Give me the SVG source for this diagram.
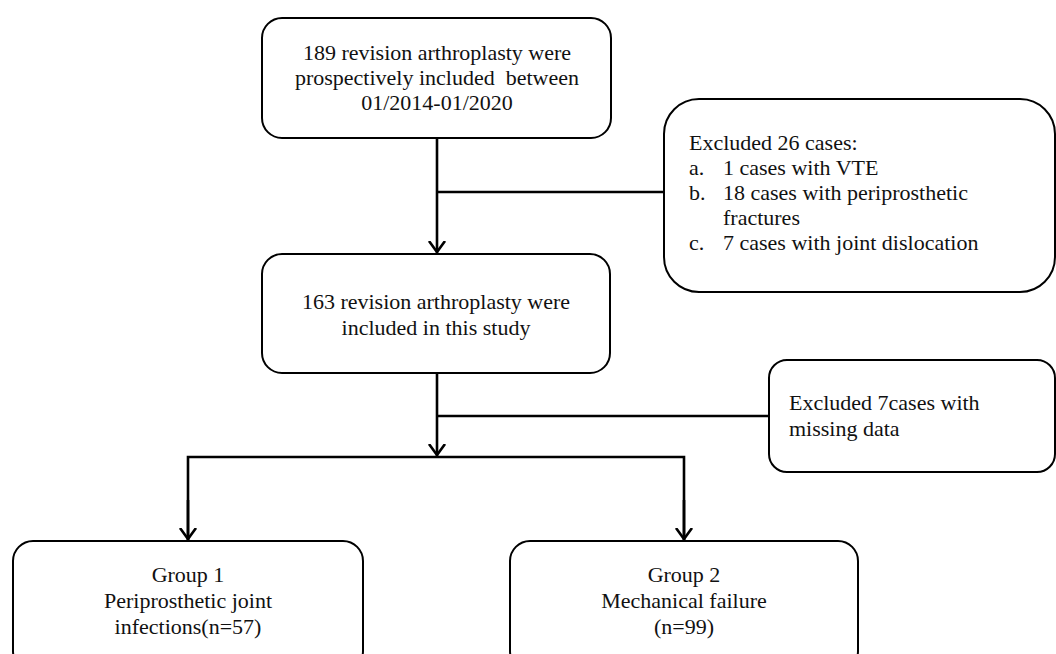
<svg xmlns="http://www.w3.org/2000/svg" width="1056" height="654" viewBox="0 0 1056 654">
<style>
.box{fill:#fff;stroke:#000;stroke-width:2}
.t{font-family:"Liberation Serif","Times New Roman",serif;font-size:22px;fill:#111}
.c{text-anchor:middle}
.ln{fill:none;stroke:#000;stroke-width:2.6}
</style>
<defs>
<marker id="arr" markerUnits="userSpaceOnUse" markerWidth="24" markerHeight="24" viewBox="-12 -12 24 24" refX="0" refY="0" orient="auto">
<path d="M -12 -8 L -1 0 L -12 8" fill="none" stroke="#000" stroke-width="2.6"/>
</marker>
</defs>
<rect width="1056" height="654" fill="#fff"/>
<g id="connectors">
<line class="ln" x1="437" y1="138" x2="437" y2="253" marker-end="url(#arr)"/>
<line class="ln" x1="437" y1="192" x2="664" y2="192"/>
<line class="ln" x1="437" y1="373" x2="437" y2="456" marker-end="url(#arr)"/>
<line class="ln" x1="437" y1="416" x2="769" y2="416"/>
<polyline class="ln" points="188,540 188,457 684,457 684,540"/>
<line class="ln" x1="188" y1="500" x2="188" y2="540" marker-end="url(#arr)"/>
<line class="ln" x1="684" y1="500" x2="684" y2="540" marker-end="url(#arr)"/>
</g>
<g id="n1">
<rect class="box" x="262" y="18" width="349" height="120" rx="20"/>
<text class="t c" x="437" y="60">189 revision arthroplasty were</text>
<text class="t c" x="437" y="85" xml:space="preserve">prospectively included  between</text>
<text class="t c" x="437" y="110">01/2014-01/2020</text>
</g>
<g id="excl1">
<rect class="box" x="664" y="99" width="391" height="193" rx="35"/>
<text class="t" x="689" y="150">Excluded 26 cases:</text>
<text class="t" x="689" y="175">a.</text><text class="t" x="723" y="175">1 cases with VTE</text>
<text class="t" x="689" y="200">b.</text><text class="t" x="723" y="200">18 cases with periprosthetic</text>
<text class="t" x="723" y="225">fractures</text>
<text class="t" x="689" y="250">c.</text><text class="t" x="723" y="250">7 cases with joint dislocation</text>
</g>
<g id="n2">
<rect class="box" x="262" y="254" width="348" height="119" rx="20"/>
<text class="t c" x="436" y="309">163 revision arthroplasty were</text>
<text class="t c" x="436" y="335">included in this study</text>
</g>
<g id="excl2">
<rect class="box" x="769" y="360" width="286" height="112" rx="18"/>
<text class="t" x="789" y="410">Excluded 7cases with</text>
<text class="t" x="789" y="436">missing data</text>
</g>
<g id="g1">
<rect class="box" x="13" y="541" width="350" height="130" rx="20"/>
<text class="t c" x="188" y="582">Group 1</text>
<text class="t c" x="188" y="608">Periprosthetic joint</text>
<text class="t c" x="188" y="634">infections(n=57)</text>
</g>
<g id="g2">
<rect class="box" x="510" y="541" width="348" height="130" rx="20"/>
<text class="t c" x="684" y="582">Group 2</text>
<text class="t c" x="684" y="608">Mechanical failure</text>
<text class="t c" x="684" y="634">(n=99)</text>
</g>
</svg>
